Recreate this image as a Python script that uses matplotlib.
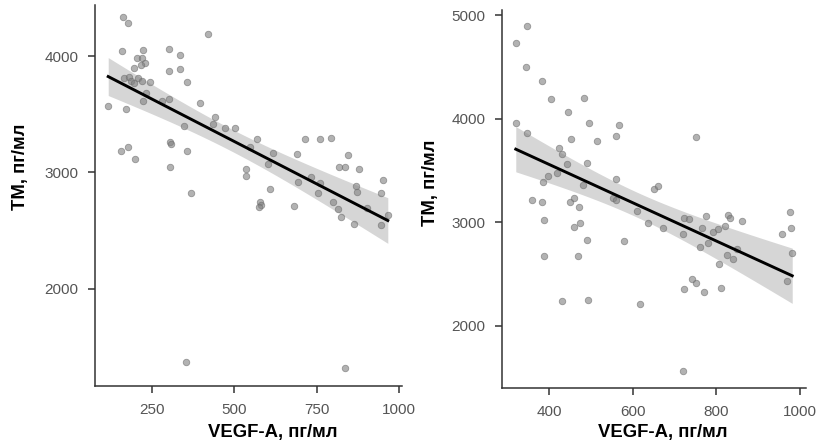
import numpy as np
import matplotlib
matplotlib.use("Agg")
import matplotlib.pyplot as plt

plt.rcParams['font.family'] = ['Liberation Sans', 'DejaVu Sans']

# ---- Left panel data (VEGF-A vs TM) ----
left_x = [162, 178, 421, 161, 222, 303, 336, 205, 220, 228, 217, 197, 303, 334,
          167, 181, 187, 197, 207, 220, 246, 357, 233, 118, 171, 222, 281, 301,
          396, 443, 436, 348, 472, 503, 156, 178, 199, 306, 309, 356, 305, 569,
          548, 715, 760, 792, 617, 689, 844, 536, 536, 602, 818, 835, 879, 733,
          692, 761, 950, 868, 609, 755, 871, 944, 369, 579, 581, 575, 681, 800,
          814, 822, 864, 901, 965, 945, 354, 834]
left_y = [4337, 4286, 4189, 4043, 4052, 4057, 4006, 3980, 3980, 3940, 3923, 3897,
          3869, 3886, 3809, 3817, 3788, 3768, 3814, 3783, 3777, 3779, 3685, 3571,
          3548, 3614, 3616, 3628, 3594, 3476, 3419, 3402, 3379, 3379, 3182, 3222,
          3116, 3265, 3242, 3185, 3045, 3288, 3222, 3288, 3288, 3294, 3167, 3161,
          3153, 3027, 2970, 3073, 3047, 3047, 3033, 2964, 2916, 2907, 2933, 2884,
          2858, 2824, 2830, 2827, 2827, 2749, 2721, 2706, 2712, 2747, 2689, 2621,
          2555, 2692, 2633, 2549, 1376, 1319]

# ---- Right panel data ----
right_x = [346, 320, 344, 383, 405, 484, 444, 320, 347, 496, 566, 560, 752, 452,
           515, 423, 431, 443, 490, 418, 396, 386, 480, 560, 650, 661, 359, 382,
           450, 460, 472, 553, 561, 387, 459, 473, 610, 636, 672, 490, 579, 387,
           469, 722, 735, 775, 829, 834, 862, 720, 767, 793, 804, 822, 781, 760,
           825, 840, 849, 806, 957, 977, 980, 982, 970, 741, 751, 724, 770, 811,
           431, 494, 617, 721]
right_y = [4894, 4729, 4498, 4362, 4194, 4201, 4069, 3962, 3866, 3956, 3937, 3831,
           3827, 3808, 3783, 3715, 3657, 3563, 3573, 3473, 3447, 3386, 3360, 3415,
           3319, 3354, 3209, 3199, 3193, 3235, 3145, 3238, 3209, 3019, 2955, 2990,
           3106, 2996, 2942, 2829, 2819, 2668, 2668, 3039, 3029, 3061, 3073, 3044,
           3013, 2887, 2942, 2900, 2932, 2964, 2797, 2758, 2681, 2643, 2742, 2597,
           2887, 3093, 2945, 2697, 2430, 2452, 2414, 2353, 2324, 2362, 2240, 2249,
           2204, 1563]

x_label = "VEGF-A, пг/мл"
y_label = "ТМ, пг/мл"
left_xticks = [250, 500, 750, 1000]
left_yticks = [2000, 3000, 4000]
right_xticks = [400, 600, 800, 1000]
right_yticks = [2000, 3000, 4000, 5000]

W, H = 820, 445
fig = plt.figure(figsize=(W / 100, H / 100), dpi=100)


def px_axes(l, t, r, b):
    return fig.add_axes([l / W, 1 - b / H, (r - l) / W, (b - t) / H])


def panel(ax, xs, ys, xlim, ylim, xticks, yticks):
    xs = np.asarray(xs, float)
    ys = np.asarray(ys, float)
    n = len(xs)
    b1, b0 = np.polyfit(xs, ys, 1)
    grid = np.linspace(xs.min(), xs.max(), 200)
    fit = b0 + b1 * grid
    resid = ys - (b0 + b1 * xs)
    s = np.sqrt(np.sum(resid ** 2) / (n - 2))
    se = s * np.sqrt(1 / n + (grid - xs.mean()) ** 2 / np.sum((xs - xs.mean()) ** 2))
    t = 1.995
    ax.fill_between(grid, fit - t * se, fit + t * se, color='#999999', alpha=0.4,
                    linewidth=0, zorder=1)
    ax.scatter(xs, ys, s=22, color='#808080', alpha=0.6, linewidths=0.6,
               edgecolors='#6a6a6a', zorder=2)
    ax.plot(grid, fit, color='black', lw=2.1, zorder=3)
    ax.set_xlim(*xlim)
    ax.set_ylim(*ylim)
    ax.set_xticks(xticks)
    ax.set_yticks(yticks)
    for sp in ['top', 'right']:
        ax.spines[sp].set_visible(False)
    for sp in ['left', 'bottom']:
        ax.spines[sp].set_color('#333333')
        ax.spines[sp].set_linewidth(1.1)
    ax.tick_params(axis='both', colors='#333333', length=5, width=1.1,
                   labelsize=11, labelcolor='#555555', pad=7)
    ax.set_facecolor('white')


ax1 = px_axes(95, 5, 402, 386)
panel(ax1, left_x, left_y, (78, 1008), (1167, 4438), left_xticks, left_yticks)

ax2 = px_axes(502, 10, 806, 388)
panel(ax2, right_x, right_y, (287, 1015), (1396, 5051), right_xticks, right_yticks)

lab = dict(fontsize=13.3, fontweight='bold', color='black')
fig.text(273 / W, 1 - 437 / H, x_label, ha='center', va='baseline', **lab)
fig.text(663 / W, 1 - 437 / H, x_label, ha='center', va='baseline', **lab)
fig.text(21 / W, 1 - 167 / H, y_label, ha='center', va='center', rotation=90, **lab)
fig.text(431 / W, 1 - 183 / H, y_label, ha='center', va='center', rotation=90, **lab)

fig.savefig("out.png", dpi=100, facecolor='white')
